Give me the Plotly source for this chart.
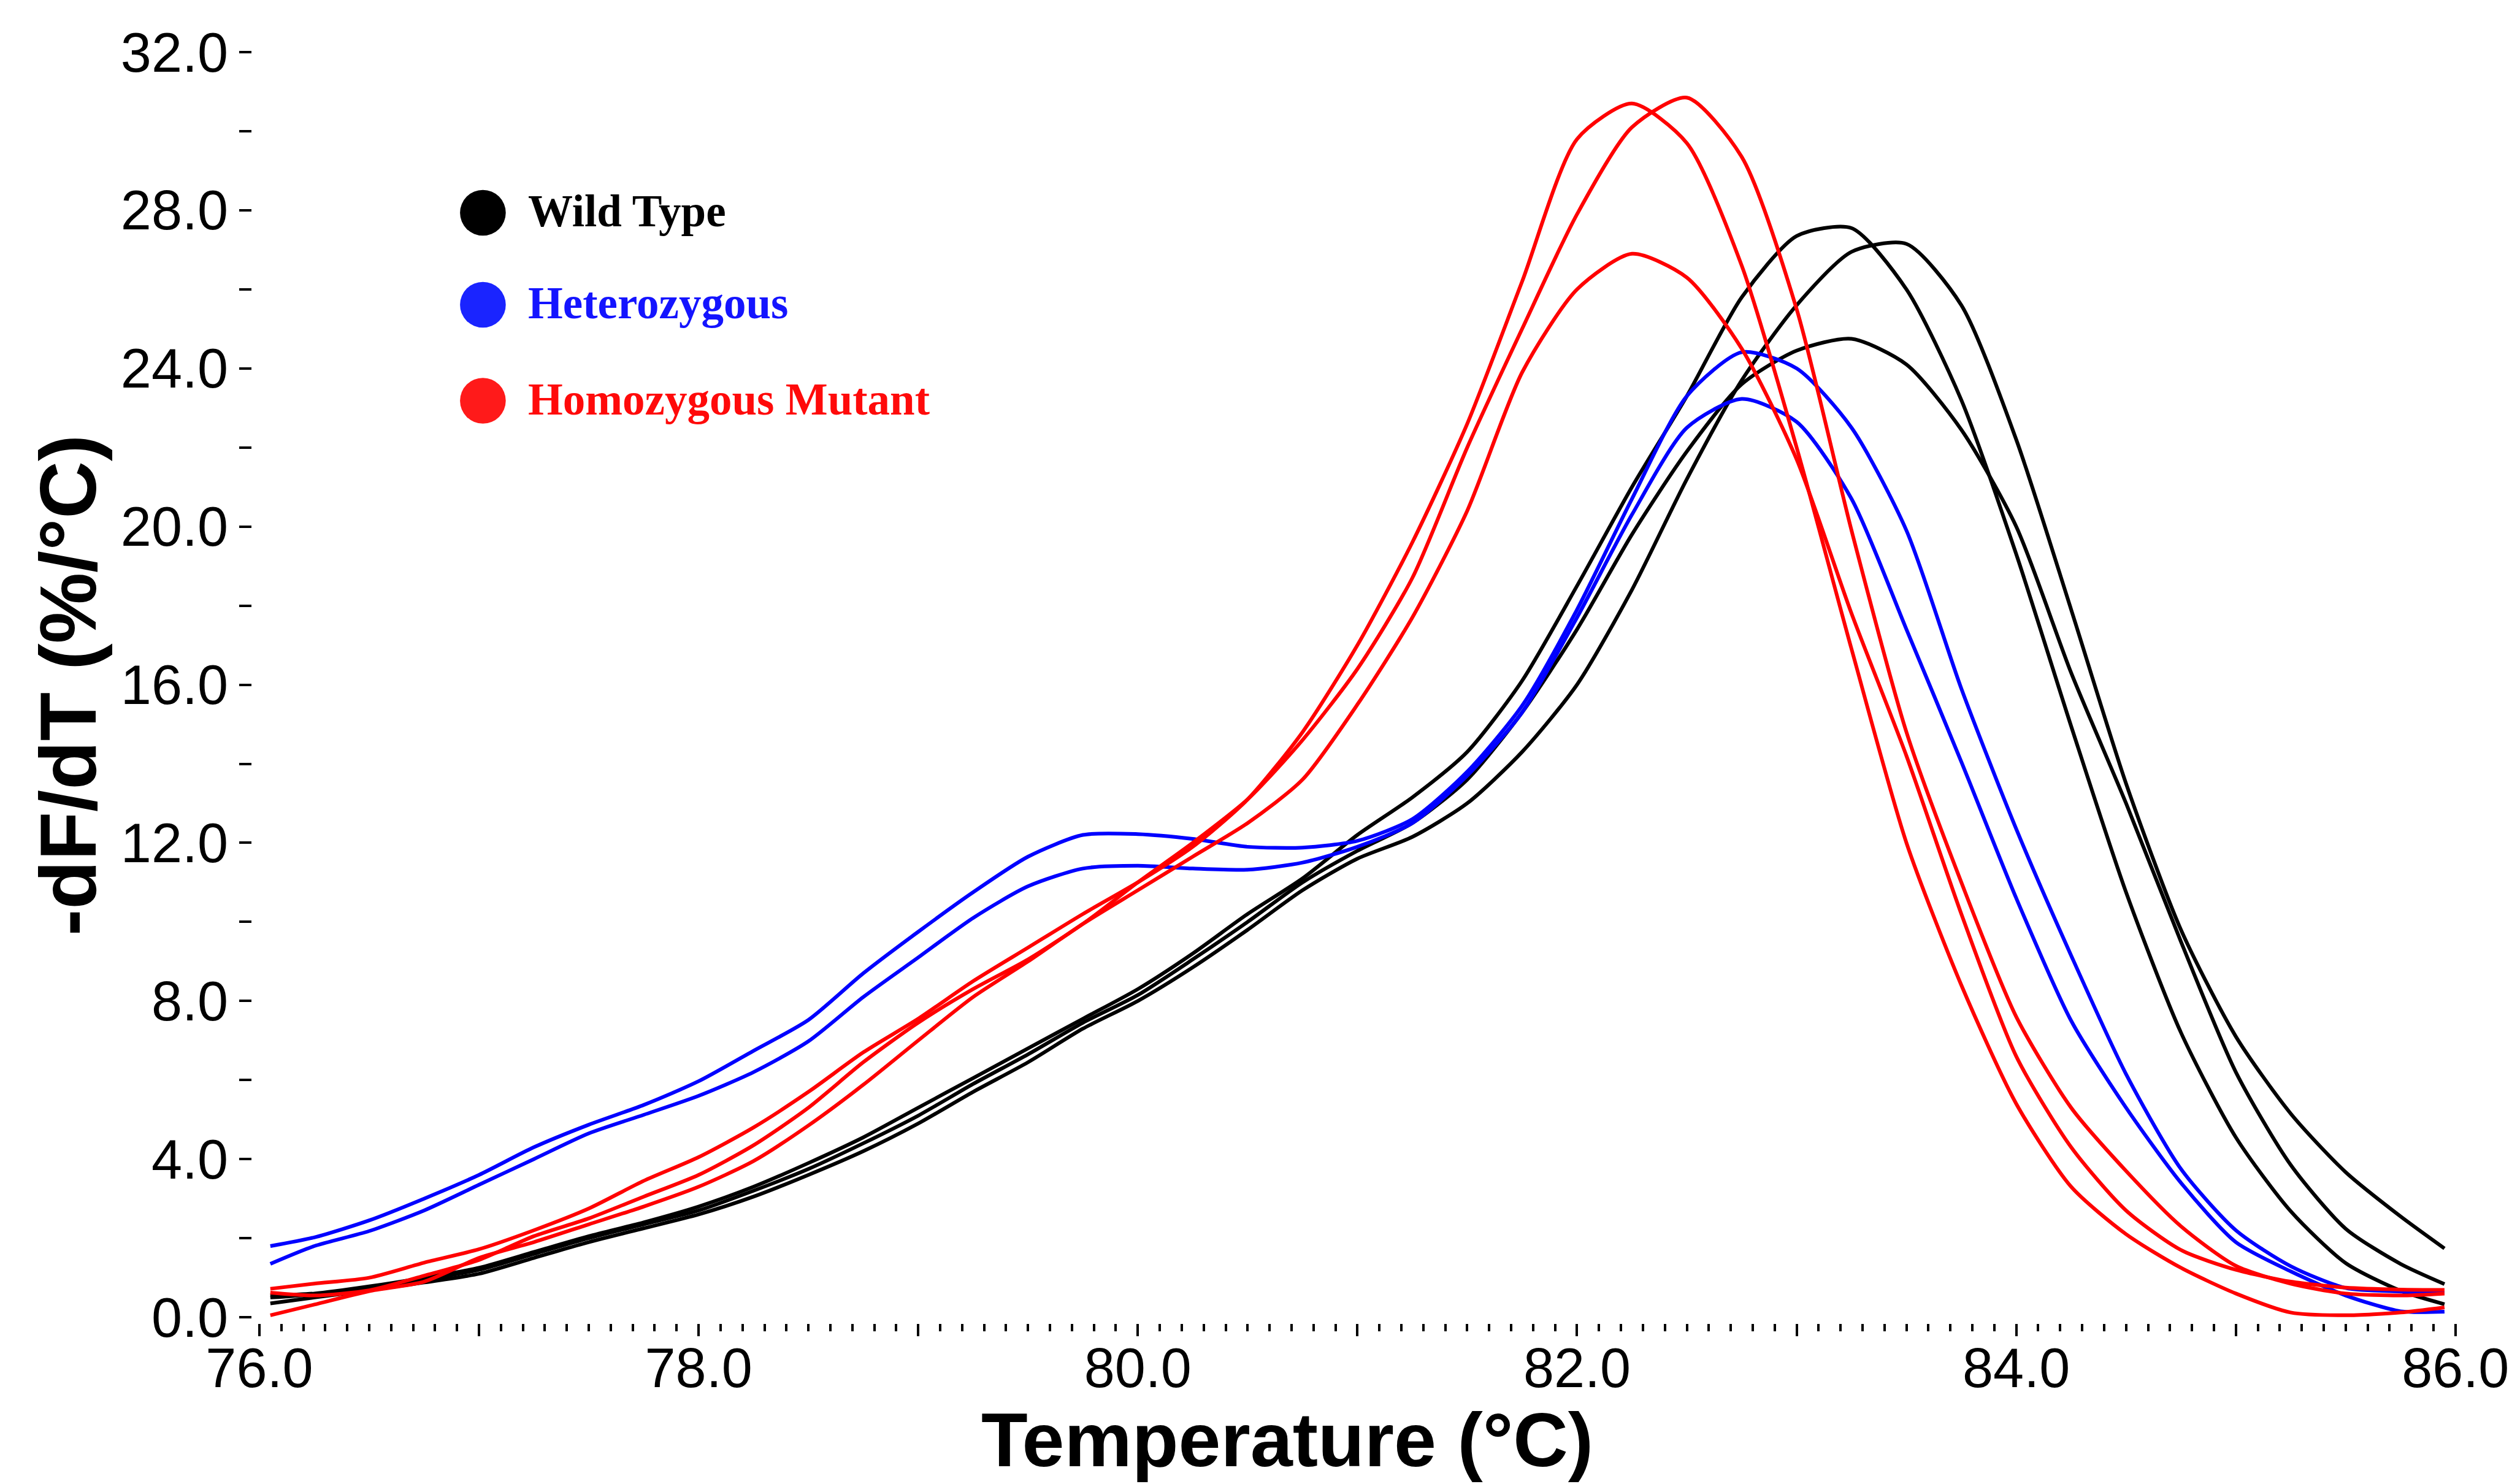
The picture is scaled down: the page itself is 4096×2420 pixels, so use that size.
import plotly.graph_objects as go

# ---------------- data ----------------
temperature = [76.05, 76.25, 76.5, 76.75, 77.0, 77.25, 77.5, 77.75, 78.0, 78.25,
               78.5, 78.75, 79.0, 79.25, 79.5, 79.75, 80.0, 80.25, 80.5, 80.75,
               81.0, 81.25, 81.5, 81.75, 82.0, 82.25, 82.5, 82.75, 83.0, 83.25,
               83.5, 83.75, 84.0, 84.25, 84.5, 84.75, 85.0, 85.25, 85.5, 85.75, 85.95]

wild_type_1 = [0.55, 0.60, 0.78, 1.00, 1.25, 1.65, 2.05, 2.40, 2.80, 3.30,
               3.90, 4.55, 5.30, 6.05, 6.80, 7.55, 8.30, 9.20, 10.20, 11.10,
               12.20, 13.15, 14.30, 16.10, 18.50, 21.00, 23.30, 25.80, 27.35, 27.55,
               26.00, 23.20, 19.30, 14.95, 10.75, 7.20, 4.55, 2.68, 1.37, 0.67, 0.33]
wild_type_2 = [0.35, 0.50, 0.68, 0.88, 1.10, 1.50, 1.90, 2.25, 2.60, 3.05,
               3.60, 4.20, 4.90, 5.70, 6.45, 7.30, 8.00, 8.85, 9.80, 10.80,
               11.60, 12.15, 13.00, 14.30, 16.00, 18.40, 21.20, 23.70, 25.60, 26.95,
               27.15, 25.60, 22.20, 17.90, 13.50, 9.80, 7.10, 5.15, 3.67, 2.55, 1.74]
wild_type_3 = [0.50, 0.58, 0.75, 0.95, 1.20, 1.60, 2.00, 2.35, 2.70, 3.20,
               3.75, 4.40, 5.10, 5.90, 6.65, 7.45, 8.15, 9.05, 10.00, 11.00,
               11.80, 12.50, 13.60, 15.30, 17.40, 19.80, 21.90, 23.60, 24.45, 24.75,
               24.10, 22.45, 20.00, 16.30, 13.00, 9.50, 6.20, 3.85, 2.24, 1.35, 0.84]

heterozygous_1 = [1.80, 2.02, 2.45, 3.00, 3.60, 4.30, 4.87, 5.37, 5.97, 6.74,
                  7.52, 8.70, 9.75, 10.75, 11.65, 12.20, 12.22, 12.10, 11.90, 11.88,
                  12.05, 12.60, 13.80, 15.47, 17.90, 20.70, 23.30, 24.41, 24.00, 22.50,
                  19.90, 15.90, 12.35, 9.15, 6.15, 3.75, 2.20, 1.29, 0.74, 0.65, 0.62]
heterozygous_2 = [1.35, 1.80, 2.18, 2.70, 3.35, 4.00, 4.65, 5.12, 5.60, 6.20,
                  6.98, 8.10, 9.10, 10.10, 10.90, 11.35, 11.42, 11.35, 11.32, 11.50,
                  11.90, 12.50, 13.70, 15.30, 17.70, 20.30, 22.50, 23.23, 22.65, 20.70,
                  17.40, 14.05, 10.60, 7.50, 5.30, 3.40, 1.90, 1.16, 0.55, 0.15, 0.14]

homozygous_1 = [0.72, 0.85, 1.00, 1.38, 1.72, 2.20, 2.75, 3.45, 4.05, 4.80,
                5.70, 6.70, 7.55, 8.50, 9.35, 10.20, 11.00, 11.90, 13.10, 14.80,
                17.00, 19.60, 22.60, 26.20, 29.80, 30.70, 29.70, 26.60, 22.00, 16.90,
                12.00, 8.40, 5.40, 3.30, 2.10, 1.25, 0.60, 0.12, 0.05, 0.12, 0.25]
homozygous_2 = [0.62, 0.55, 0.68, 1.05, 1.45, 2.05, 2.50, 3.05, 3.60, 4.35,
                5.30, 6.45, 7.45, 8.30, 9.05, 9.95, 11.00, 12.00, 13.10, 14.60,
                16.40, 18.70, 22.00, 25.00, 27.90, 30.10, 30.85, 29.35, 25.50, 19.90,
                14.80, 11.00, 7.60, 5.30, 3.70, 2.30, 1.30, 0.85, 0.60, 0.55, 0.60]
homozygous_3 = [0.05, 0.32, 0.66, 0.90, 1.50, 1.90, 2.35, 2.80, 3.30, 3.95,
                4.85, 5.88, 7.00, 8.10, 9.00, 9.95, 10.80, 11.65, 12.50, 13.60,
                15.50, 17.70, 20.40, 23.90, 26.00, 26.90, 26.30, 24.50, 21.70, 17.80,
                14.20, 10.20, 6.60, 4.30, 2.70, 1.70, 1.20, 0.90, 0.75, 0.70, 0.69]

x_tick_values = [76, 77, 78, 79, 80, 81, 82, 83, 84, 85, 86]
x_tick_labels = ["76.0", "", "78.0", "", "80.0", "", "82.0", "", "84.0", "", "86.0"]

legend_labels = ["Wild Type", "Heterozygous", "Homozygous Mutant"]
legend_text_colors = ["#000000", "#1414ff", "#ff0a0a"]
legend_dot_colors = ["#000000", "#1a24ff", "#ff1a1a"]

line_groups = [
    ("#000000", [wild_type_1, wild_type_2, wild_type_3]),
    ("#0000ff", [heterozygous_1, heterozygous_2]),
    ("#ff0000", [homozygous_1, homozygous_2, homozygous_3]),
]

# ---------------- figure ----------------
W, H = 4096, 2420
ML, MR, MT, MB = 411, 92, 85, 262
plot_w = W - ML - MR
plot_h = H - MT - MB

fig = go.Figure()
for color, curves in line_groups:
    for vals in curves:
        fig.add_trace(go.Scatter(
            x=temperature, y=vals, mode="lines",
            line=dict(color=color, width=6, shape="spline", smoothing=0.7),
            showlegend=False, hoverinfo="skip"))

tick_font = dict(family="Liberation Sans, Arial, sans-serif", size=90, color="#000000")

fig.update_xaxes(
    range=[76 - 12 / 360.2, 86.0005],
    showgrid=False, zeroline=False, showline=False,
    ticks="outside", tickmode="array",
    tickvals=x_tick_values, ticktext=x_tick_labels,
    ticklen=20, tickwidth=4, tickcolor="#000000",
    tickfont=tick_font, ticklabelstandoff=-25,
    minor=dict(ticks="outside", dtick=0.1, tick0=76, ticklen=12,
               tickwidth=3.5, tickcolor="#000000", showgrid=False),
)
fig.update_yaxes(
    range=[-10 / 64.84, 32.001],
    showgrid=False, zeroline=False, showline=False,
    ticks="outside", tickmode="linear", tick0=0, dtick=4,
    tickformat=".1f",
    ticklen=20, tickwidth=3.5, tickcolor="#000000",
    tickfont=tick_font,
    minor=dict(ticks="outside", dtick=2, tick0=0, ticklen=20,
               tickwidth=3.5, tickcolor="#000000", showgrid=False),
)

def px_x(px):
    return (px - ML) / plot_w

def px_y(py):
    return (H - MB - py) / plot_h

annotations = [
    dict(text="Temperature (°C)", xref="paper", yref="paper",
         x=px_x(2099), y=px_y(2348), xanchor="center", yanchor="middle",
         showarrow=False,
         font=dict(family="Liberation Sans, Arial, sans-serif", size=124,
                   color="#000000", weight="bold")),
    dict(text="-dF/dT (%/°C)", xref="paper", yref="paper",
         x=px_x(111), y=px_y(1118), xanchor="center", yanchor="middle",
         textangle=-90, showarrow=False,
         font=dict(family="Liberation Sans, Arial, sans-serif", size=130,
                   color="#000000", weight="bold")),
]

legend_dot_y = [347, 497, 653.5]
legend_text_y = [344.5, 494.6, 651.2]
shapes = []
for i, label in enumerate(legend_labels):
    shapes.append(dict(
        type="circle", xref="paper", yref="paper",
        xsizemode="pixel", ysizemode="pixel",
        xanchor=px_x(787.4), yanchor=px_y(legend_dot_y[i]),
        x0=-37.3, x1=37.3, y0=-37.3, y1=37.3,
        fillcolor=legend_dot_colors[i], line=dict(width=0)))
    annotations.append(dict(
        text=label, xref="paper", yref="paper",
        x=px_x(859), y=px_y(legend_text_y[i]), xanchor="left", yanchor="middle",
        showarrow=False,
        font=dict(family="Liberation Serif, Times New Roman, serif", size=73,
                  color=legend_text_colors[i], weight="bold")))

fig.update_layout(
    width=W, height=H,
    margin=dict(l=ML, r=MR, t=MT, b=MB, autoexpand=False),
    paper_bgcolor="#ffffff", plot_bgcolor="#ffffff",
    showlegend=False,
    annotations=annotations, shapes=shapes,
)

fig.write_html("out.html")
